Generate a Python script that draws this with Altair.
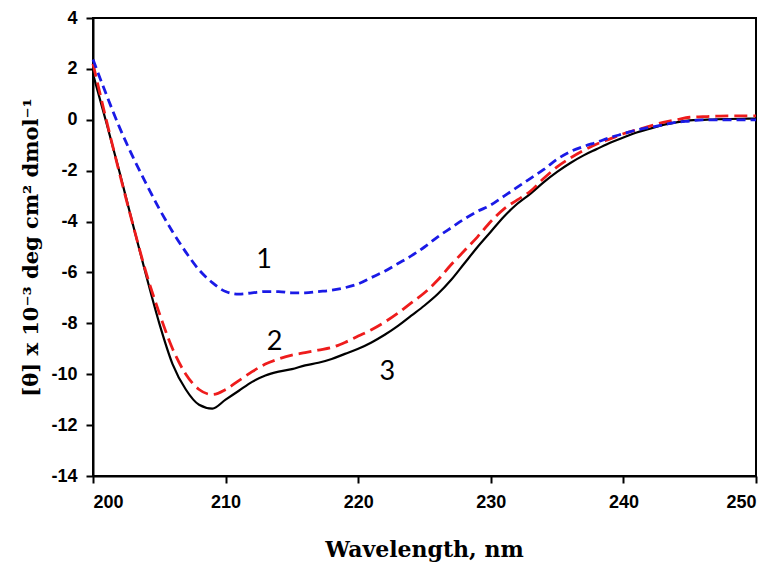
import altair as alt
import pandas as pd

wavelength = list(range(200, 251))

curve1 = [2.37, 1.0, -0.3, -1.45, -2.5, -3.5, -4.4, -5.2, -5.9, -6.4,
          -6.75, -6.85, -6.8, -6.75, -6.75, -6.8, -6.8, -6.75, -6.7, -6.6,
          -6.45, -6.2, -5.95, -5.65, -5.35, -5.0, -4.6, -4.25, -3.9, -3.6,
          -3.35, -3.0, -2.65, -2.3, -1.95, -1.55, -1.25, -1.05, -0.88, -0.7,
          -0.55, -0.4, -0.3, -0.2, -0.1, -0.05, 0.0, 0.0, 0.0, 0.0, 0.0]

curve2 = [2.2, 0.0, -2.1, -4.1, -6.0, -7.6, -9.0, -10.0, -10.6, -10.8,
          -10.6, -10.25, -9.9, -9.6, -9.4, -9.25, -9.15, -9.05, -8.95, -8.75,
          -8.5, -8.25, -7.95, -7.6, -7.2, -6.8, -6.3, -5.7, -5.15, -4.6,
          -4.0, -3.5, -3.15, -2.8, -2.3, -1.85, -1.5, -1.2, -0.95, -0.75,
          -0.55, -0.4, -0.25, -0.1, 0.0, 0.1, 0.12, 0.14, 0.15, 0.15, 0.15]

curve3 = [1.8, -0.1, -2.05, -4.1, -6.1, -8.0, -9.6, -10.6, -11.2, -11.35,
          -11.0, -10.65, -10.3, -10.05, -9.9, -9.8, -9.65, -9.55, -9.4, -9.2,
          -9.0, -8.75, -8.45, -8.1, -7.7, -7.3, -6.85, -6.3, -5.65, -5.0,
          -4.4, -3.8, -3.3, -2.9, -2.45, -2.05, -1.7, -1.4, -1.15, -0.9,
          -0.7, -0.5, -0.35, -0.2, -0.1, -0.02, 0.0, 0.02, 0.03, 0.04, 0.05]

label_text = ["1", "2", "3"]
label_x = [212.9, 213.7, 222.2]
label_y = [-5.5, -8.75, -9.9]

x_ticks = [200, 210, 220, 230, 240, 250]
y_ticks = [-14, -12, -10, -8, -6, -4, -2, 0, 2, 4]

rows = []
for name, vals in [("1", curve1), ("2", curve2), ("3", curve3)]:
    for w, v in zip(wavelength, vals):
        rows.append({"wavelength": w, "theta": v, "series": name})
df = pd.DataFrame(rows)
labels = pd.DataFrame({"text": label_text, "x": label_x, "y": label_y})

xscale = alt.Scale(domain=[200, 250], nice=False, zero=False)
yscale = alt.Scale(domain=[-14, 4], nice=False, zero=False)

xaxis = alt.Axis(values=x_ticks, title="Wavelength, nm", grid=False,
                 labelExpr="toString(datum.value)",
                 labelFont="Arial", labelFontSize=18, labelFontWeight="bold",
                 labelColor="black", labelPadding=10, tickSize=7, tickWidth=2,
                 tickColor="black", domainColor="black", domainWidth=2,
                 titleFont="DejaVu Serif", titleFontSize=22, titleFontWeight="bold",
                 titleColor="black", titleX=331, titleY=80, titleBaseline="alphabetic",
                 titleAlign="center")
yaxis = alt.Axis(values=y_ticks, title="[θ] x 10⁻³ deg cm² dmol⁻¹", grid=False,
                 labelExpr="toString(datum.value)",
                 labelFont="Arial", labelFontSize=18, labelFontWeight="bold",
                 labelColor="black", labelPadding=9, tickSize=7, tickWidth=2,
                 tickColor="black", domainColor="black", domainWidth=2,
                 titleFont="DejaVu Serif", titleFontSize=21, titleFontWeight="bold",
                 titleColor="black", titleX=-62, titleY=229, titleAngle=-90,
                 titleAlign="center", titleBaseline="middle")

base = alt.Chart(df)

line3 = base.transform_filter(alt.datum.series == "3").mark_line(
    color="black", strokeWidth=2.2, interpolate="monotone"
).encode(
    x=alt.X("wavelength:Q", scale=xscale, axis=xaxis),
    y=alt.Y("theta:Q", scale=yscale, axis=yaxis),
)
line2 = base.transform_filter(alt.datum.series == "2").mark_line(
    color="#ee1c1c", strokeWidth=2.8, strokeDash=[13, 6], interpolate="monotone"
).encode(x="wavelength:Q", y="theta:Q")
line1 = base.transform_filter(alt.datum.series == "1").mark_line(
    color="#1a1ae6", strokeWidth=2.8, strokeDash=[9, 5], interpolate="monotone"
).encode(x="wavelength:Q", y="theta:Q")

text = alt.Chart(labels).mark_text(
    font="Lato", fontSize=27, color="black", align="center", baseline="middle"
).encode(x="x:Q", y="y:Q", text="text:N")

chart = alt.layer(line3, line2, line1, text).properties(
    width=663, height=458,
    autosize=alt.AutoSizeParams(type="none"),
    padding={"left": 85, "top": 10, "right": 10, "bottom": 86},
).configure_view(stroke="black", strokeWidth=2)

chart.save("out.html", embed_options={"renderer": "svg", "actions": False})
